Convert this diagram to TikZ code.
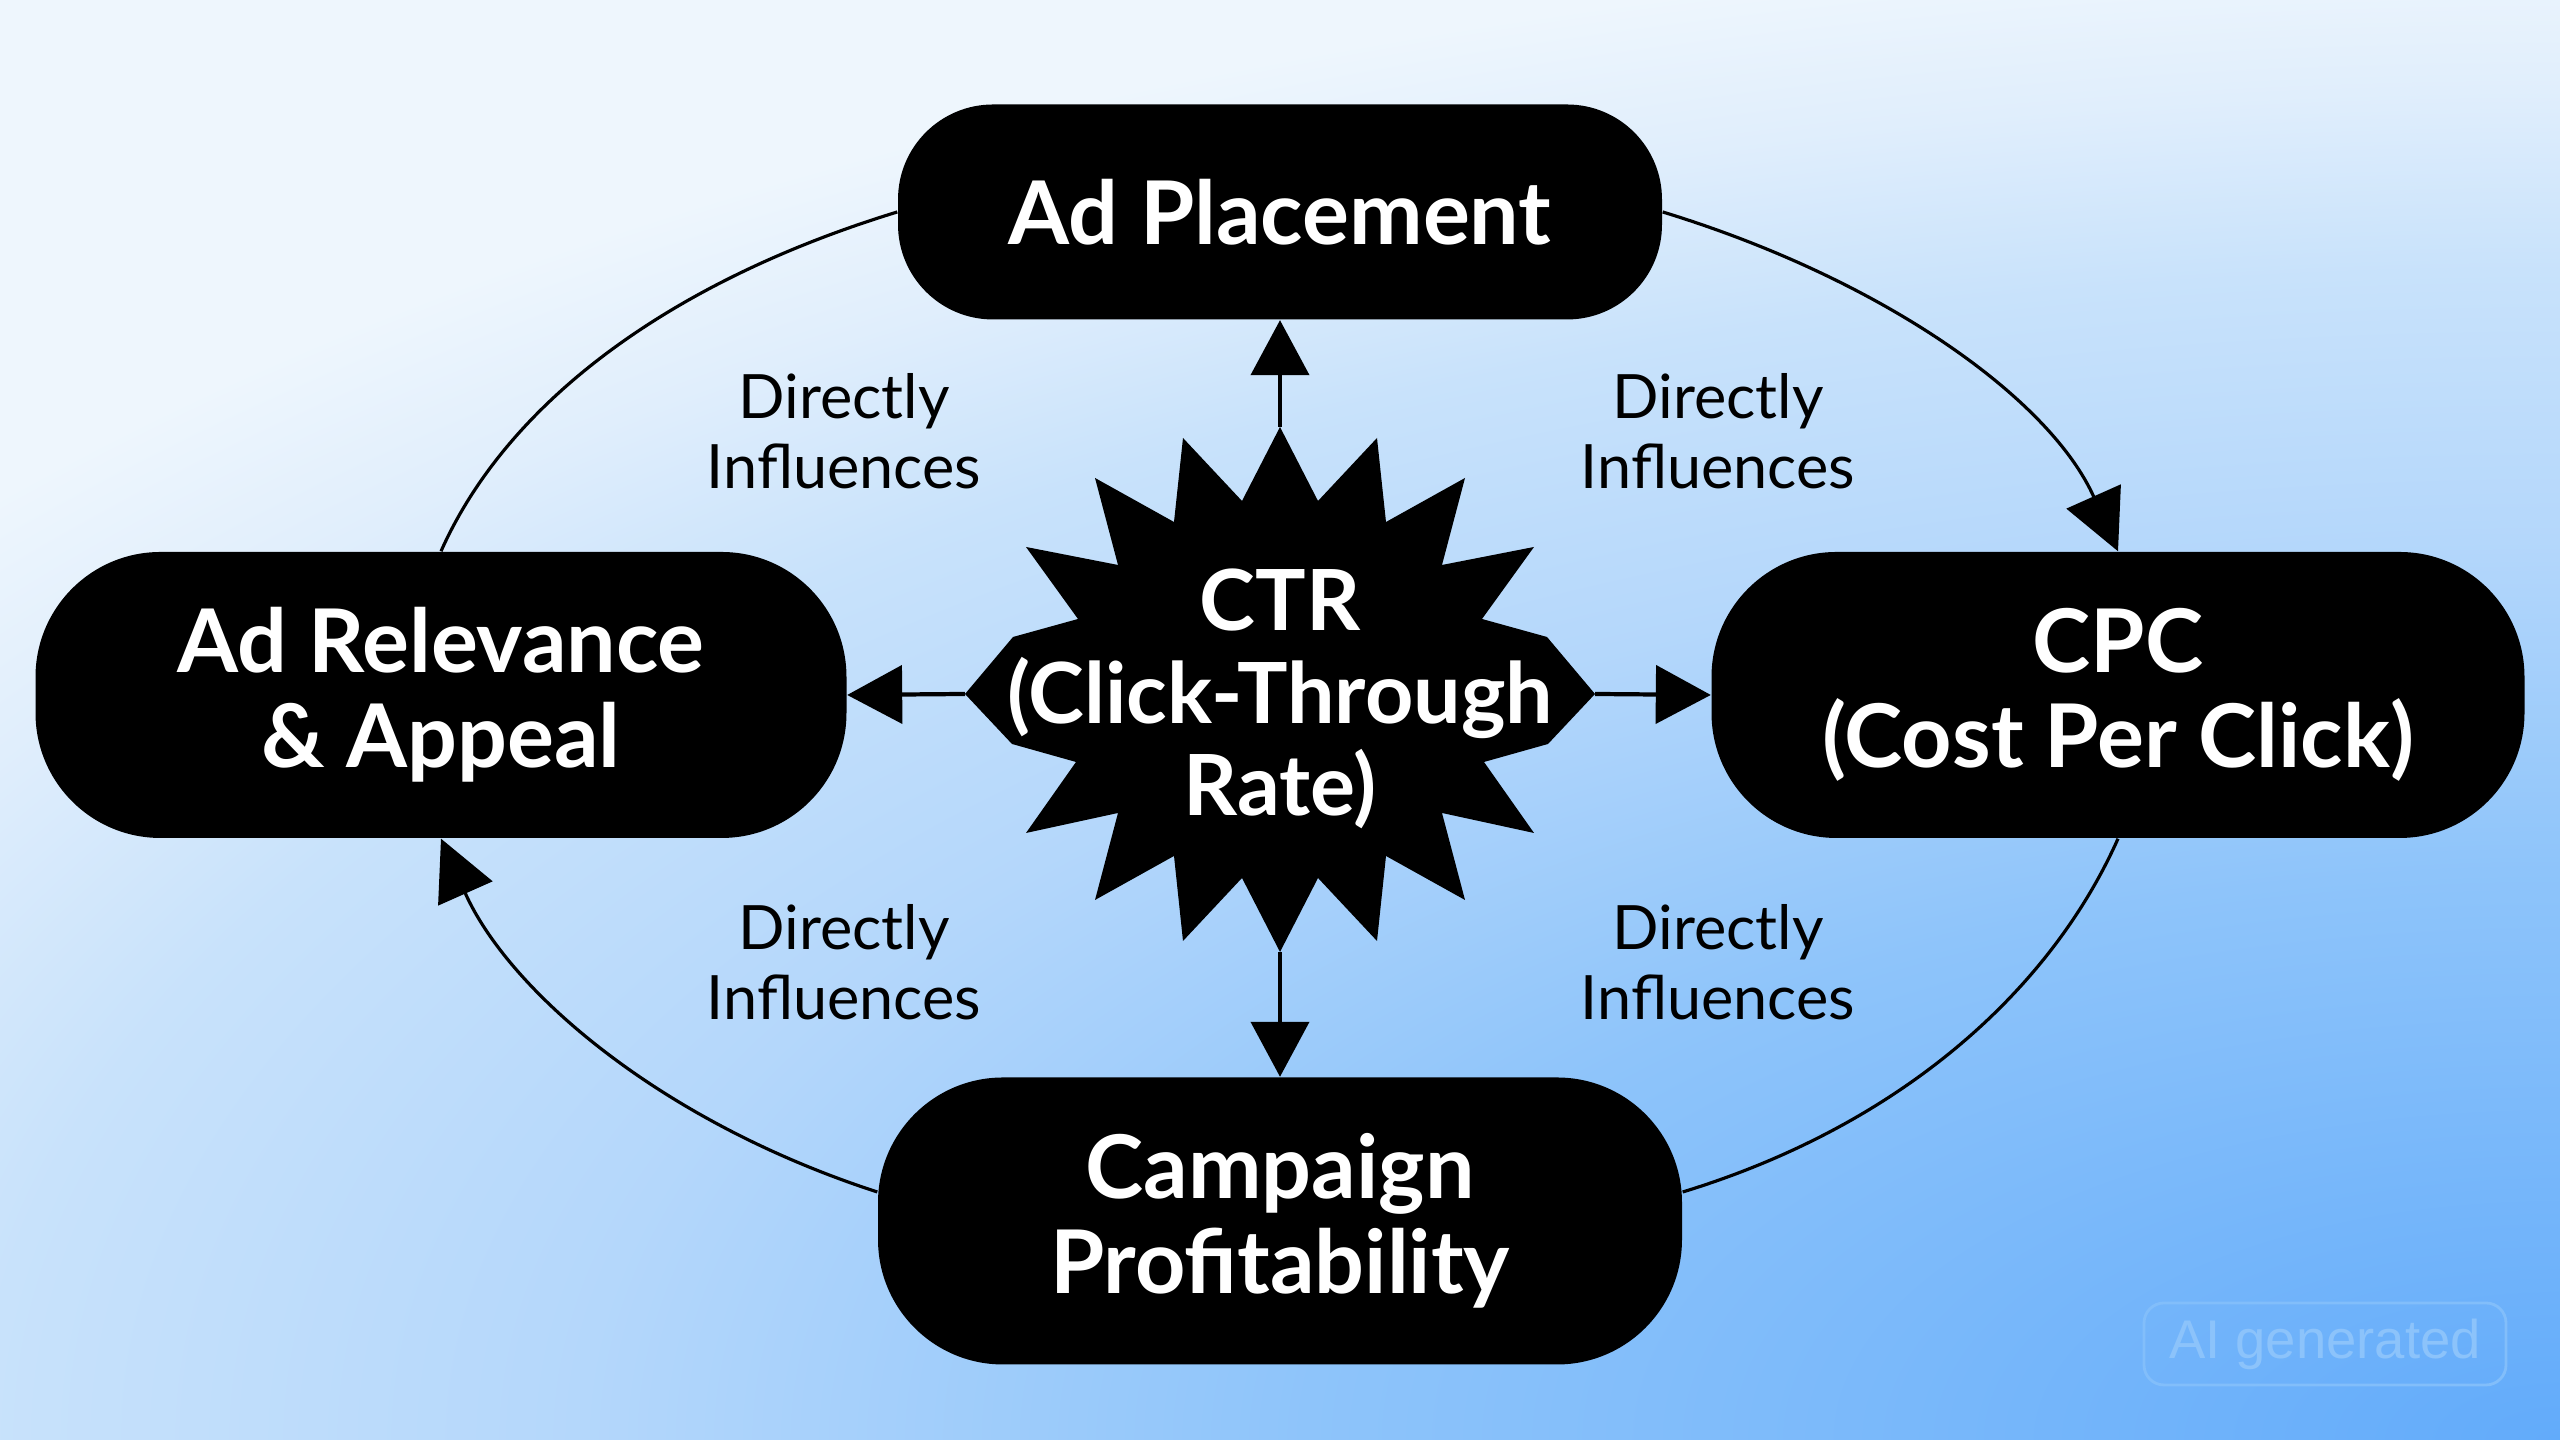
\documentclass[tikz,border=0pt]{standalone}
\usepackage{fontspec}
\setmainfont{Lato}
\newfontfamily\wmfont{Liberation Sans}
\usetikzlibrary{arrows.meta}
\definecolor{bgA}{HTML}{62ABFA}
\definecolor{bgB}{HTML}{8EC4FA}
\definecolor{bgC}{HTML}{B4D7FB}
\definecolor{bgD}{HTML}{C8E2FB}
\definecolor{bgE}{HTML}{E0EEFC}
\definecolor{bgF}{HTML}{EEF6FD}
\definecolor{wmB}{HTML}{82BEFA}
\definecolor{wmT}{HTML}{8CC3FA}
\pgfdeclareradialshading{bgrad}{\pgfpoint{0bp}{0bp}}{color(0bp)=(bgA); color(9.5bp)=(bgB); color(15bp)=(bgC); color(19.5bp)=(bgD); color(22.5bp)=(bgE); color(25bp)=(bgF); color(50bp)=(bgF)}
\tikzset{
  box/.style={fill=black, text=white, font=\fontsize{25}{27}\selectfont\bfseries, align=center, inner sep=0pt},
  lab/.style={font=\fontsize{17.4}{20}\selectfont, align=center, text=black},
  carrow/.style={line width=1.2pt, -{Triangle[length=5.5mm, width=5.8mm]}},
  arcl/.style={line width=0.9pt},
  arctip/.style={-{Triangle[length=6mm, width=5.9mm]}}
}
\begin{document}
\begin{tikzpicture}[x=0.1mm, y=0.1mm]
\useasboundingbox (0,0) rectangle (2560,1440);
\begin{scope}
  \clip (0,0) rectangle (2560,1440);
  \fill[bgF] (0,0) rectangle (2560,1440);
  \shade[shading=bgrad] (2560,0) ellipse [x radius=3300, y radius=1500];
\end{scope}

% nodes
\node[box, minimum width=76.4mm, minimum height=21.5mm, rounded corners=9.5mm] (place) at (1280,1228) {Ad Placement};
\node[box, minimum width=81.1mm, minimum height=28.6mm, rounded corners=12.5mm] (rel) at (441,745) {Ad Relevance\\\& Appeal};
\node[box, minimum width=81.3mm, minimum height=28.6mm, rounded corners=12.5mm] (cpc) at (2118,745) {CPC\\(Cost Per Click)};
\node[box, minimum width=80.4mm, minimum height=28.7mm, rounded corners=12.5mm] (camp) at (1280,219) {Campaign\\Profitability};

% starburst
\begin{scope}[shift={(1280,746)}]
\fill[black] (0,267) -- (38,193) -- (97,256) -- (106,172) -- (185,216) -- (162,129) -- (254,147) -- (202,75) -- (267,57) -- (315,0)
 -- (268,-50) -- (204,-68) -- (254,-139) -- (162,-119) -- (185,-206) -- (106,-162) -- (97,-247) -- (38,-184) -- (0,-258)
 -- (-38,-184) -- (-97,-247) -- (-106,-162) -- (-185,-206) -- (-162,-119) -- (-254,-139) -- (-204,-68) -- (-268,-50) -- (-315,0)
 -- (-267,57) -- (-202,75) -- (-254,147) -- (-162,129) -- (-185,216) -- (-106,172) -- (-97,256) -- (-38,193) -- cycle;
\end{scope}
\node[box, fill=none, font=\fontsize{24}{26.4}\selectfont\bfseries] (ctr) at (1280,741) {CTR\\(Click-Through\\Rate)};
\coordinate (ctrN) at (1280,1013);
\coordinate (ctrS) at (1280,488);
\coordinate (ctrW) at (965,746);
\coordinate (ctrE) at (1595,746);

% central arrows
\draw[carrow] (ctrN) -- (place.south);
\draw[carrow] (ctrS) -- (camp.north);
\draw[carrow] (ctrW) -- (rel.east);
\draw[carrow] (ctrE) -- (cpc.west);

% outer arcs
\draw[arcl] (rel.north) to[out=66, in=197, out looseness=0.75, in looseness=1.05] (place.west);
\draw[arcl, arctip] (place.east) to[out=-17, in=114, out looseness=1.05, in looseness=0.75] (cpc.north);
\draw[arcl] (cpc.south) to[out=246, in=17, out looseness=0.75, in looseness=1.05] ([yshift=2.9mm]camp.east);
\draw[arcl, arctip] ([yshift=2.9mm]camp.west) to[out=162, in=294, out looseness=1.05, in looseness=0.75] (rel.south);

% labels
\node[lab] (l1) at (844,1009) {Directly\\Influences};
\node[lab] (l2) at (1718,1009) {Directly\\Influences};
\node[lab] (l3) at (844,478) {Directly\\Influences};
\node[lab] (l4) at (1718,478) {Directly\\Influences};

% watermark
\node[draw=wmB, text=wmT, rounded corners=2mm, line width=0.8pt, minimum width=36.2mm, minimum height=8.2mm, font=\fontsize{15.5}{17}\selectfont\wmfont] (wm) at (2325,96) {AI generated};
\end{tikzpicture}
\end{document}
